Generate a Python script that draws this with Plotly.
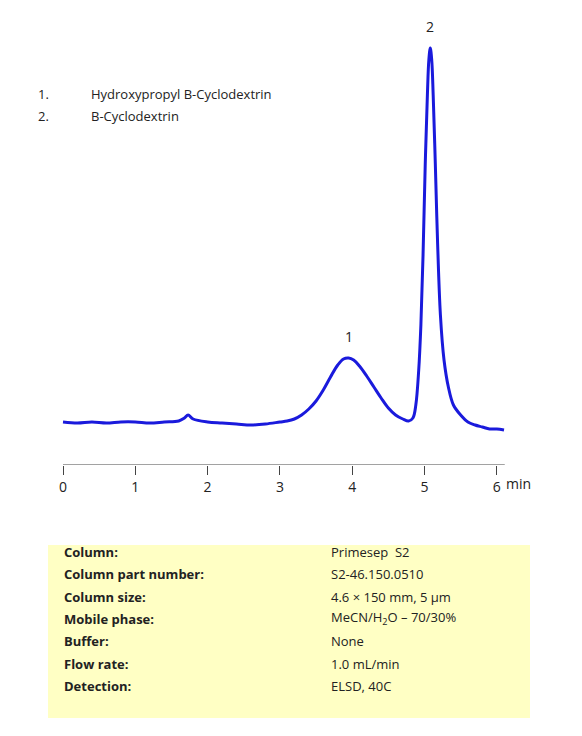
import plotly.graph_objects as go

# chromatogram trace (time in min, detector signal in a.u.)
time_min = [0.0, 0.2, 0.4, 0.6, 0.8, 1.0, 1.2, 1.4, 1.6, 1.68, 1.73, 1.8, 2.0, 2.2, 2.4, 2.6,
            2.8, 3.0, 3.1, 3.2, 3.3, 3.4, 3.5, 3.6, 3.7, 3.8, 3.88, 3.95, 4.02, 4.1, 4.2,
            4.3, 4.4, 4.5, 4.6, 4.7, 4.78, 4.84, 4.88, 4.92, 4.95, 4.98, 5.01, 5.04, 5.06,
            5.08, 5.1, 5.12, 5.15, 5.18, 5.22, 5.27, 5.33, 5.4, 5.5, 5.6, 5.7, 5.8, 5.9,
            6.0, 6.1]
signal = [43, 42, 43, 42, 43, 43, 42, 43, 44, 47, 50, 46, 43, 42, 41, 40,
          41, 43, 44, 46, 50, 56, 64, 75, 88, 100, 106, 107, 105, 99, 89,
          78, 67, 57, 50, 46, 44, 47, 60, 95, 140, 210, 300, 370, 405,
          417, 405, 370, 300, 225, 150, 105, 78, 60, 50, 43, 40, 38, 36,
          36, 35]

peak_times = [3.95, 5.08]
peak_labels = ["1", "2"]
peak_tops = [107, 417]

legend_items = ["Hydroxypropyl B-Cyclodextrin", "B-Cyclodextrin"]

table_keys = ["Column:", "Column part number:", "Column size:", "Mobile phase:",
              "Buffer:", "Flow rate:", "Detection:"]
table_vals = ["Primesep  S2", "S2-46.150.0510", "4.6 × 150 mm, 5 µm",
              "MeCN/H<sub>2</sub>O – 70/30%", "None", "1.0 mL/min", "ELSD, 40C"]

OFF = 8  # page body margin
W, H = 582 - OFF, 736 - OFF
FONT = "Open Sans, Liberation Sans, sans-serif"


def px(x):
    return (x - OFF) / W


def py(y):
    return 1 - (y - OFF) / H


fig = go.Figure()
fig.add_trace(go.Scatter(x=time_min, y=signal, mode="lines",
                         line=dict(color="#1a1adc", width=3, shape="spline"),
                         hoverinfo="skip"))

# axis line
fig.add_shape(type="line", x0=0, x1=6.11, y0=0, y1=0, line=dict(color="#444", width=1))

fig.update_layout(
    width=W, height=H, margin=dict(l=0, r=0, t=0, b=0),
    paper_bgcolor="white", plot_bgcolor="white", showlegend=False,
    font=dict(family=FONT, size=13, color="#222"),
    xaxis=dict(range=[-(63 - OFF) / 72.3, (W + OFF - 63) / 72.3], tickvals=list(range(7)),
               ticks="outside", ticklen=9, tickcolor="#444", showgrid=False,
               zeroline=False, showline=False, tickfont=dict(size=14)),
    yaxis=dict(domain=[py(465), 1], range=[0, 465 - OFF], visible=False),
)

fig.add_annotation(x=6.1, y=0, yshift=-18, text="min", showarrow=False,
                   xanchor="left", yanchor="middle", font=dict(size=14))

for t, lab, top in zip(peak_times, peak_labels, peak_tops):
    fig.add_annotation(x=t, y=top, text=lab, showarrow=False, yanchor="bottom",
                       yshift=10, font=dict(size=14))

for i, item in enumerate(legend_items):
    y = py(83 + 22 * i)
    fig.add_annotation(xref="paper", yref="paper", x=px(36), y=y, text=f"{i + 1}.",
                       showarrow=False, xanchor="left", font=dict(size=13))
    fig.add_annotation(xref="paper", yref="paper", x=px(89), y=y, text=item,
                       showarrow=False, xanchor="left", font=dict(size=13))

# conditions table
fig.add_shape(type="rect", xref="paper", yref="paper", x0=px(48), x1=px(530),
              y0=py(718), y1=py(545), fillcolor="#ffffc4", line=dict(width=0),
              layer="below")
for i, (k, v) in enumerate(zip(table_keys, table_vals)):
    y = py(563 + 22.3 * i)
    fig.add_annotation(xref="paper", yref="paper", x=px(62), y=y, text=f"<b>{k}</b>",
                       showarrow=False, xanchor="left", font=dict(size=13))
    fig.add_annotation(xref="paper", yref="paper", x=px(329), y=y, text=v,
                       showarrow=False, xanchor="left", font=dict(size=13))

fig.write_html("out.html")
